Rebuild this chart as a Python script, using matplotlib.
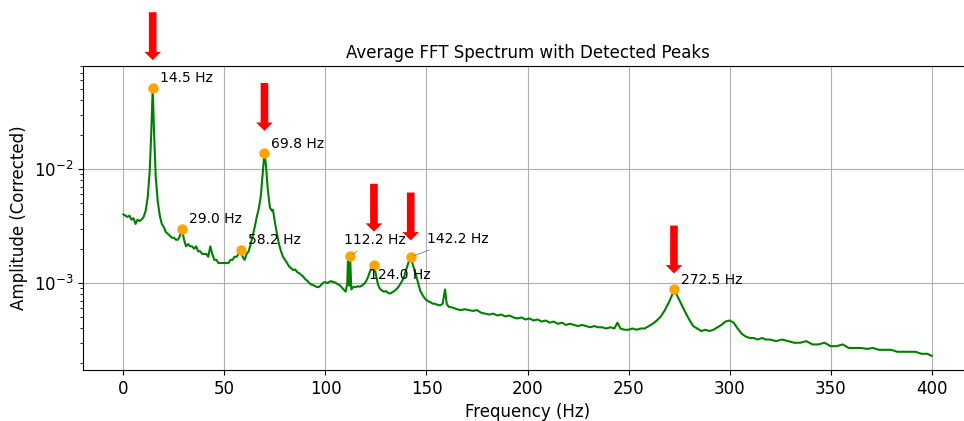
import matplotlib
matplotlib.use("Agg")
import matplotlib.pyplot as plt
from matplotlib.transforms import offset_copy

# averaged spectrum
freqs = [0, 1, 2, 3, 4, 5, 6, 7, 8, 9, 10, 11, 12, 13, 13.75, 14.5, 15.25, 16, 17, 18,
         19, 20, 21, 22, 23, 24, 25, 26, 27, 28, 29, 30, 31, 32, 33, 34, 35, 36, 37, 38,
         39, 40, 41, 42, 43, 44, 45, 46, 47, 48, 49, 50, 51, 52, 53, 54, 55, 56, 57, 58.2,
         59, 60, 61, 62, 63, 64, 65, 66, 67, 68, 69, 69.8, 70.5, 71.5, 72.5, 73.5, 74, 75, 76, 77,
         78, 79, 80, 81, 82, 83, 84, 85, 86, 87, 88, 89, 90, 91, 92, 93, 94, 95, 96, 97,
         98, 99, 100, 101, 102, 103, 104, 105, 106, 107, 108, 109, 110, 110.8, 111.2, 111.8, 112.2, 112.8, 114, 115,
         116, 117, 118, 119, 120, 121, 122, 123, 124, 125, 126, 127, 128, 129, 130, 131, 132, 133, 134, 135,
         136, 137, 138, 139, 140, 141, 142.2, 143, 144, 145, 146, 147, 148, 149, 150, 151, 152, 153, 154, 155,
         156, 157, 158, 159.2, 160, 161, 163, 165, 167, 169, 171, 173, 175, 177, 179, 181, 183, 185, 187, 189,
         191, 193, 195, 197, 199, 201, 203, 205, 207, 209, 211, 213, 215, 217, 219, 221, 223, 225, 227, 229,
         231, 233, 235, 237, 239, 241, 243, 244.5, 246, 248, 250, 252, 254, 256, 258, 260, 262, 264, 266, 268,
         270, 271.5, 272.5, 274, 276, 278, 280, 282, 284, 286, 288, 290, 292, 294, 296, 298, 300, 302, 304, 306,
         308, 310, 312, 314, 316, 318, 320, 323, 326, 329, 332, 335, 338, 341, 344, 347, 350, 353, 356, 359,
         362, 365, 368, 371, 374, 377, 380, 383, 386, 389, 392, 395, 398, 400]
amps = [0.0040, 0.0039, 0.0038, 0.0039, 0.0036, 0.0037, 0.0033, 0.0036, 0.0035, 0.0036,
        0.0038, 0.0043, 0.0056, 0.0095, 0.020, 0.0514, 0.019, 0.0085, 0.0052, 0.0039,
        0.0033, 0.0031, 0.0028, 0.0027, 0.0026, 0.0025, 0.0025, 0.0024, 0.0024, 0.0026,
        0.00298, 0.0024, 0.0021, 0.0022, 0.0021, 0.0021, 0.0020, 0.0021, 0.0019, 0.0019,
        0.0018, 0.0018, 0.0018, 0.0017, 0.0021, 0.0018, 0.0016, 0.0016, 0.0015, 0.0015,
        0.0015, 0.0015, 0.0015, 0.0015, 0.0016, 0.0016, 0.0017, 0.0017, 0.0018, 0.00196,
        0.0017, 0.0016, 0.0018, 0.0019, 0.0022, 0.0026, 0.0031, 0.0038, 0.0045, 0.0058,
        0.0094, 0.0138, 0.0110, 0.0065, 0.0046, 0.0043, 0.0044, 0.0034, 0.0027, 0.0022,
        0.0019, 0.0017, 0.0016, 0.0015, 0.0014, 0.00135, 0.00130, 0.00132, 0.00125, 0.00122,
        0.00118, 0.00114, 0.00108, 0.00105, 0.00100, 0.00097, 0.00096, 0.00094, 0.00092, 0.00093,
        0.00097, 0.00101, 0.00102, 0.00100, 0.00103, 0.00104, 0.00102, 0.00101, 0.00098, 0.00096,
        0.00092, 0.00088, 0.00084, 0.00100, 0.00173, 0.00095, 0.00173, 0.00088, 0.00093, 0.00092,
        0.00094, 0.00093, 0.00095, 0.00098, 0.00103, 0.00112, 0.00126, 0.00138, 0.00144, 0.00118,
        0.00097, 0.00089, 0.00086, 0.00084, 0.00085, 0.00082, 0.00081, 0.00083, 0.00085, 0.00088,
        0.00092, 0.00098, 0.00105, 0.00115, 0.00132, 0.00150, 0.00169, 0.00150, 0.00130, 0.00115,
        0.00098, 0.00085, 0.00079, 0.00074, 0.00071, 0.00069, 0.00068, 0.00066, 0.00066, 0.00065,
        0.00064, 0.00064, 0.00066, 0.00088, 0.00066, 0.00062, 0.00061, 0.00059, 0.00058, 0.00059,
        0.00058, 0.00057, 0.00058, 0.00055, 0.00054, 0.00053, 0.00054, 0.00052, 0.00053, 0.00051,
        0.00052, 0.00050, 0.00049, 0.00050, 0.00048, 0.00049, 0.00047, 0.00048, 0.00046, 0.00047,
        0.00045, 0.00046, 0.00044, 0.00045, 0.00043, 0.00044, 0.00043, 0.00042, 0.00043, 0.00042,
        0.00041, 0.00042, 0.00041, 0.00041, 0.00040, 0.00041, 0.00040, 0.00045, 0.00040, 0.00039,
        0.00039, 0.00040, 0.00039, 0.00040, 0.00040, 0.00042, 0.00044, 0.00047, 0.00051, 0.00058,
        0.00068, 0.00078, 0.00088, 0.00078, 0.00066, 0.00056, 0.00048, 0.00042, 0.00040, 0.00038,
        0.00039, 0.00038, 0.00039, 0.00041, 0.00043, 0.00046, 0.00047, 0.00045, 0.00040, 0.00036,
        0.00034, 0.00033, 0.00033, 0.00032, 0.00033, 0.00032, 0.00032, 0.00031, 0.00032, 0.00031,
        0.00030, 0.00030, 0.00031, 0.00029, 0.00029, 0.00030, 0.00028, 0.00028, 0.00029, 0.00027,
        0.00027, 0.00027, 0.000265, 0.00027, 0.00026, 0.00026, 0.00026, 0.00025, 0.00025, 0.00025,
        0.00025, 0.00024, 0.00024, 0.00023]

peak_freqs = [14.5, 29.0, 58.2, 69.8, 112.2, 124.0, 142.2, 272.5]
arrow_freqs = [14.5, 69.8, 124.0, 142.2, 272.5]

# label offsets (points); the crowded ones get a leader line
label_offsets = {112.2: (-4.5, 8.5), 124.0: (-3.5, -10), 142.2: (11.5, 10)}
arrow_gaps = {14.5: 20, 69.8: 16, 124.0: 24, 142.2: 12, 272.5: 11.5}

peak_amps = [amps[freqs.index(p)] for p in peak_freqs]

fig = plt.figure(figsize=(9.64, 4.21), dpi=100)
ax = fig.add_axes([0.0861, 0.1211, 0.9222, 0.7221])

ax.plot(freqs, amps, color='green', lw=1.5)
ax.plot(peak_freqs, peak_amps, 'o', color='orange', markersize=6.5, zorder=3)

for f, a in zip(peak_freqs, peak_amps):
    if f in label_offsets:
        ax.annotate(f"{f:.1f} Hz", xy=(f, a), xytext=label_offsets[f],
                    textcoords='offset points', fontsize=10,
                    arrowprops=dict(arrowstyle='-', color='grey', lw=0.6))
    else:
        ax.annotate(f"{f:.1f} Hz", xy=(f, a), xytext=(5, 4),
                    textcoords='offset points', fontsize=10)

for f in arrow_freqs:
    a = peak_amps[peak_freqs.index(f)]
    tr = offset_copy(ax.transData, fig=fig, x=0, y=arrow_gaps[f], units='points')
    ax.annotate('', xy=(f, a), xycoords=tr, xytext=(0, 34.5), textcoords='offset points',
                arrowprops=dict(facecolor='red', edgecolor='none', width=5.5,
                                headwidth=12, headlength=6, shrink=0))

ax.set_yscale('log')
ax.set_xlim(-20, 420)
ax.set_ylim(1.73e-4, 0.080)
ax.grid(True)
ax.set_title('Average FFT Spectrum with Detected Peaks', fontsize=12)
ax.set_xlabel('Frequency (Hz)', fontsize=12)
ax.set_ylabel('Amplitude (Corrected)', fontsize=12)
ax.tick_params(labelsize=12)

fig.savefig('out.png', dpi=100)
